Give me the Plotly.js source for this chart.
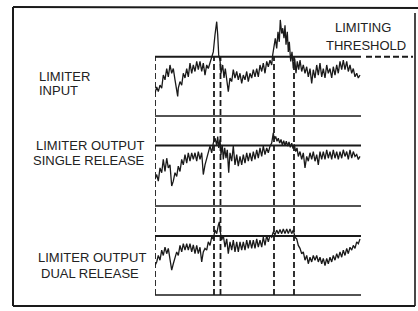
<!DOCTYPE html>
<html>
<head>
<meta charset="utf-8">
<script src="https://cdn.plot.ly/plotly-3.0.1.min.js"></script>
<style>
  html, body { margin: 0; padding: 0; background: #fff; }
  #chart { width: 418px; height: 311px; }
</style>
</head>
<body>
<div id="chart"></div>
<script>
// ---- Data (signal level in % of limiting threshold; time in arbitrary units) ----
var threshold = 100;
var panelEnd = 206;          // end of time window
var crossTimes = [0, 59, 65.5, 119, 139];   // threshold crossing markers

var tInput = [0,1.7,3.3,5,6.7,8.3,10,11.7,13.3,15,16.7,18.3,20,21.7,22.7,23.3,25,26.7,28.3,30,31.7,33.3,35,36.7,38.3,40,41.7,43.3,45,46.7,48.3,50,51.7,53.3,55,56.7,58.3,
  60,61.7,62.7,63.7,65,66,67.7,69,70.3,71.7,73.3,
  75,76.7,78.3,80,81.7,83.3,85,86.7,88.3,90,91.7,93.3,95,96.7,98.3,100,101.7,103.3,105,106.7,108.3,110,111.7,113.3,115,116.7,
  117.7,119,120.3,121.7,123,124.3,125.3,126.7,127.7,129,130,131,132.3,133.3,134.3,135.7,137,138.3,139.7,141,142.3,143.7,145,
  146.7,148.3,150,151.7,153.3,155,156.7,158.3,160,161.7,163.3,165,166.7,168.3,170,171.7,173.3,175,176.7,178.3,180,181.7,183.3,185,186.7,188.3,190,191.7,193.3,195,196.7,198.3,200,201.7,203.3,205];
var limiterInput = [38,49,41,52,47,69,61,80,66,86,72,80,61,41,33,47,58,52,72,64,80,66,89,72,86,75,92,78,92,75,89,69,86,80,89,97,108,
  137,159,137,103,94,72,86,64,80,58,41,
  64,58,78,64,75,61,72,55,69,61,75,58,72,64,78,66,80,66,86,75,89,72,92,83,94,86,
  103,120,131,114,142,125,162,139,148,131,153,120,142,108,125,92,108,80,97,72,92,78,94,
  75,86,72,83,66,80,55,78,64,86,69,89,66,80,64,86,72,80,64,83,69,86,72,92,78,94,78,92,75,86,72,80,66,72,64,69];

var tSingle = [0,1.7,3.3,5,6.7,8.3,10,11.7,13.3,15,16.7,18.3,20,21.7,23.3,25,26.7,28.3,30,31.7,33.3,35,36.7,38.3,40,41.7,43.3,45,46.7,48.3,50,51.7,53.3,55,56.7,58.3,
  60,61.7,62.7,63.7,65,66,67.3,68.3,69.7,71,72.3,73.7,
  75,76.7,78.3,80,81.7,83.3,85,86.7,88.3,90,91.7,93.3,95,96.7,98.3,100,101.7,103.3,105,106.7,108.3,110,111.7,113.3,115,116.7,
  118.3,119.3,120.7,122,123.3,124.7,126,127.3,128.7,130,131.3,132.7,134,135.3,136.7,138,139.3,140.7,142,143.3,
  145,146.7,148.3,150,151.7,153.3,155,156.7,158.3,160,161.7,163.3,165,166.7,168.3,170,171.7,173.3,175,176.7,178.3,180,181.7,183.3,185,186.7,188.3,190,191.7,193.3,195,196.7,198.3,200,201.7,203.3,205];
var outputSingle = [44,52,41,63,55,77,57,79,63,68,33,41,55,49,66,57,77,68,85,71,88,74,88,77,88,74,90,77,88,52,68,79,90,99,88,104,
  112,101,115,96,110,85,101,77,96,79,93,55,
  88,74,99,68,85,66,82,68,85,71,88,74,88,74,90,77,93,79,96,82,99,85,96,88,99,104,
  121,110,115,107,112,104,110,101,108,100,107,99,106,97,104,95,102,90,96,82,
  90,77,88,63,82,74,88,77,90,74,85,68,90,77,90,77,93,79,90,77,93,79,90,77,90,79,93,82,90,77,93,79,90,82,85,77,82];

var tDual = [0,1.7,3.3,5,6.7,8.3,10,11.7,13.3,15,16.7,18.3,20,21.7,23.3,25,26.7,28.3,30,31.7,33.3,35,36.7,38.3,40,41.7,43.3,45,46.7,48.3,50,51.7,53.3,55,56.7,58.3,60,61.7,63.3,
  64.3,65.3,66.7,68.3,70,71.7,73.3,
  75,76.7,78.3,80,81.7,83.3,85,86.7,88.3,90,91.7,93.3,95,96.7,98.3,100,101.7,103.3,105,106.7,108.3,110,111.7,113.3,115,116.7,118.3,120,121.7,123.3,
  125,126.7,128.3,130,131.7,133.3,135,136.7,138.3,140,141.7,143.3,145,146.7,148.3,150,151.7,153.3,155,156.7,158.3,160,161.7,163.3,165,166.7,168.3,170,171.7,173.3,
  175,176.7,178.3,180,181.7,183.3,185,186.7,188.3,190,191.7,193.3,195,196.7,198.3,200,201.7,203.3,205];
var outputDual = [50,56,67,59,76,67,81,70,79,62,42,53,62,73,67,84,73,87,76,87,76,87,73,85,70,84,70,81,56,73,79,76,90,84,98,95,110,104,118,
  124,107,93,101,81,95,70,
  90,76,93,73,90,73,90,76,90,76,93,79,93,79,93,79,95,81,93,81,98,84,101,90,101,98,107,102,110,104,
  111,104,112,104,112,104,112,104,110,98,95,84,79,70,73,59,67,53,64,56,67,59,67,56,64,53,62,50,62,53,
  64,56,67,59,70,62,73,64,76,67,79,70,81,76,84,79,90,87,95];

// ---- Layout helpers ----
var W = 418, H = 311;
function px(x) { return x / W; }
function py(y) { return 1 - y / H; }
var ink = '#1a1a1a';

var traces = [
  {x: tInput, y: limiterInput, xaxis: 'x', yaxis: 'y', mode: 'lines', line: {color: ink, width: 1.3}, hoverinfo: 'skip'},
  {x: tSingle, y: outputSingle, xaxis: 'x', yaxis: 'y2', mode: 'lines', line: {color: ink, width: 1.3}, hoverinfo: 'skip'},
  {x: tDual, y: outputDual, xaxis: 'x', yaxis: 'y3', mode: 'lines', line: {color: ink, width: 1.3}, hoverinfo: 'skip'}
];

var shapes = [];
['y', 'y2', 'y3'].forEach(function (yr) {
  shapes.push({type: 'line', xref: 'x', yref: yr, x0: 0, x1: panelEnd, y0: threshold, y1: threshold, line: {color: ink, width: 2}});
  shapes.push({type: 'line', xref: 'x', yref: yr, x0: 0, x1: panelEnd, y0: 0, y1: 0, line: {color: ink, width: 1.6}});
});
shapes.push({type: 'line', xref: 'x', yref: 'y', x0: panelEnd + 5, x1: 258, y0: threshold, y1: threshold, line: {color: ink, width: 2, dash: '6px,3px'}});
crossTimes.forEach(function (t) {
  shapes.push({type: 'line', xref: 'x', yref: 'paper', x0: t, x1: t, y0: py(295), y1: py(57), line: {color: ink, width: 1.8, dash: '6px,3px'}});
});
// frame
shapes.push({type: 'line', xref: 'paper', yref: 'paper', x0: px(13), x1: px(418), y0: py(7), y1: py(8), line: {color: ink, width: 2}});
shapes.push({type: 'line', xref: 'paper', yref: 'paper', x0: px(13), x1: px(13), y0: py(7), y1: py(306), line: {color: ink, width: 2}});
shapes.push({type: 'line', xref: 'paper', yref: 'paper', x0: px(13), x1: px(415), y0: py(306), y1: py(306), line: {color: ink, width: 2}});
shapes.push({type: 'line', xref: 'paper', yref: 'paper', x0: px(415), x1: px(415), y0: py(13), y1: py(306), line: {color: ink, width: 1.6}});

var f = {family: 'Liberation Sans, Arial, sans-serif', size: 13, color: '#222'};
function ann(text, x, y, anchor) {
  return {text: text, xref: 'paper', yref: 'paper', x: px(x), y: py(y), xanchor: anchor, yanchor: 'middle', showarrow: false, font: f};
}
var annotations = [
  ann('LIMITER', 37, 76, 'left'),
  ann('INPUT', 37, 91, 'left'),
  ann('LIMITER OUTPUT', 90, 145, 'center'),
  ann('SINGLE RELEASE', 89, 160, 'center'),
  ann('LIMITER OUTPUT', 92, 257, 'center'),
  ann('DUAL RELEASE', 90, 273, 'center'),
  ann('LIMITING', 363, 28, 'center'),
  ann('THRESHOLD', 366, 45, 'center')
];

var hidden = {visible: false, fixedrange: true};
var layout = {
  width: W, height: H,
  margin: {l: 0, r: 0, t: 0, b: 0},
  paper_bgcolor: '#fff', plot_bgcolor: 'rgba(0,0,0,0)',
  showlegend: false,
  xaxis: Object.assign({domain: [px(155), px(413)], range: [0, 258]}, hidden),
  yaxis: Object.assign({domain: [py(120.7), py(12.2)], range: [-8, 175]}, hidden),
  yaxis2: Object.assign({domain: [py(210.8), py(127.4)], range: [-8, 130], anchor: 'x'}, hidden),
  yaxis3: Object.assign({domain: [py(299.7), py(215.35)], range: [-8, 135], anchor: 'x'}, hidden),
  shapes: shapes,
  annotations: annotations
};

Plotly.newPlot('chart', traces, layout, {staticPlot: true, displayModeBar: false});
</script>
</body>
</html>
